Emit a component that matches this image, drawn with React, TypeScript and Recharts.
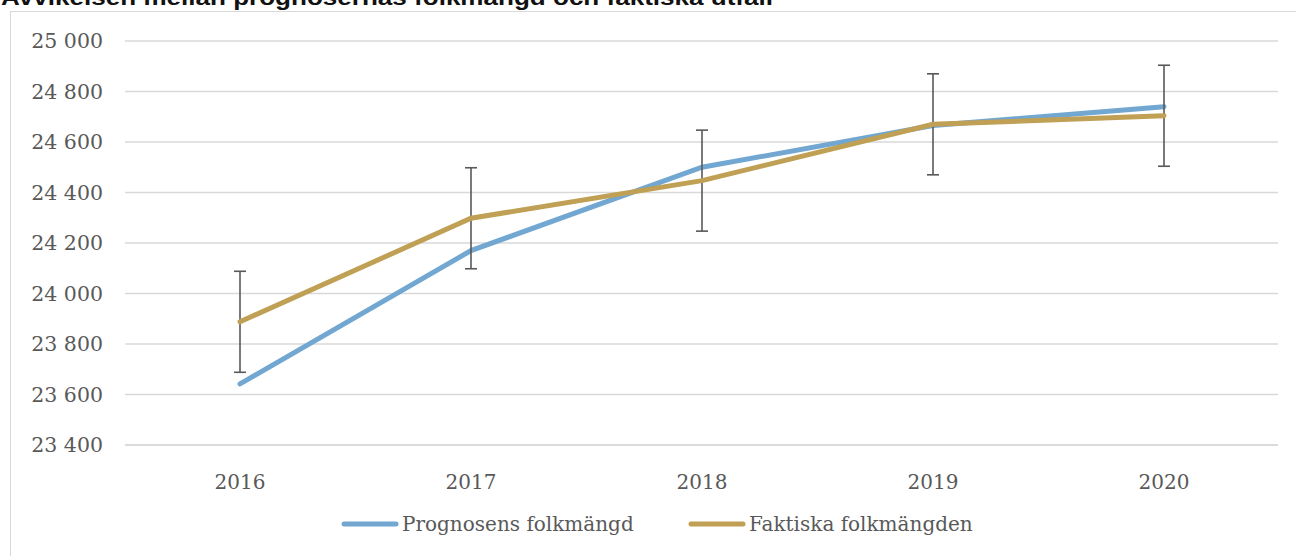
import { LineChart, Line, XAxis, YAxis, CartesianGrid, ErrorBar, Legend } from 'recharts'

const years = ['2016', '2017', '2018', '2019', '2020']
const prognos = [23642, 24170, 24500, 24665, 24740]
const faktiska = [23888, 24298, 24447, 24670, 24704]
const faktiskaErr = [200, 200, 200, 200, 200]
const yTicks = [23400, 23600, 23800, 24000, 24200, 24400, 24600, 24800, 25000]
const seriesNames = ['Prognosens folkmängd', 'Faktiska folkmängden']

const BLUE = '#72a7d2'
const GOLD = '#bfa054'
const TEXT = '#595959'
const GRID = '#d9d9d9'
const FONT = 'DejaVu Serif'

const data = years.map((year, i) => ({
  year,
  prognos: prognos[i],
  faktiska: faktiska[i],
  err: faktiskaErr[i],
}))

function formatThousands(v: number): string {
  const k = Math.floor(v / 1000)
  const rest = String(v % 1000).padStart(3, '0')
  return `${k} ${rest}`
}

function LegendContent({ payload }: { payload?: Array<{ value: string; color?: string }> }) {
  // keep the series order, recharts sorts the payload by name
  const items = [...(payload ?? [])].sort((a, b) => seriesNames.indexOf(a.value) - seriesNames.indexOf(b.value))
  return (
    <svg width={1296} height={40} style={{ display: 'block' }}>
      {items.map((item, i) => {
        const x0 = 342 + i * 347
        return (
          <g key={item.value}>
            <line x1={x0 + 2} y1={20} x2={x0 + 54} y2={20} stroke={item.color} strokeWidth={5} strokeLinecap="round" />
            <text x={x0 + 60} y={27} fontSize={20} fontFamily={FONT} fill={TEXT}>
              {item.value}
            </text>
          </g>
        )
      })}
    </svg>
  )
}

export default function App() {
  return (
    <div style={{ position: 'absolute', left: 0, top: 0, width: 1296, height: 556, background: '#fff', overflow: 'hidden' }}>
      <div
        style={{
          position: 'absolute',
          left: 10,
          top: 11,
          width: 1300,
          height: 560,
          border: `1.5px solid ${GRID}`,
          boxSizing: 'border-box',
        }}
      />
      <svg width={1296} height={20} style={{ position: 'absolute', left: 0, top: 0 }}>
        <text x={1} y={5} fontSize={22} fontWeight="bold" fontFamily="Liberation Sans" fill="#111" textLength={772} lengthAdjust="spacingAndGlyphs">
          Avvikelsen mellan prognosernas folkmängd och faktiska utfall
        </text>
      </svg>
      <div style={{ position: 'absolute', left: 0, top: 0 }}>
        <LineChart width={1296} height={556} data={data} margin={{ top: 41, right: 18, left: 0, bottom: 12 }}>
          <CartesianGrid vertical={false} stroke={GRID} strokeWidth={1.5} />
          <XAxis
            dataKey="year"
            scale="point"
            padding={{ left: 115, right: 114 }}
            height={59}
            axisLine={{ stroke: GRID, strokeWidth: 1.5 }}
            tickLine={false}
            tickSize={0}
            tickMargin={30}
            tick={{ fontSize: 20, fill: TEXT, fontFamily: FONT }}
          />
          <YAxis
            width={125}
            domain={[23400, 25000]}
            ticks={yTicks}
            interval={0}
            axisLine={false}
            tickLine={false}
            tickSize={0}
            tickMargin={22}
            tickFormatter={formatThousands}
            tick={{ fontSize: 20.5, fill: TEXT, fontFamily: FONT }}
          />
          <Legend
            verticalAlign="bottom"
            align="left"
            wrapperStyle={{ height: 40, width: 1296 }}
            content={(props: any) => <LegendContent payload={props.payload} />}
          />
          <Line
            type="linear"
            dataKey="prognos"
            name={seriesNames[0]}
            stroke={BLUE}
            strokeWidth={5}
            strokeLinecap="round"
            dot={false}
            activeDot={false}
            isAnimationActive={false}
          />
          <Line
            type="linear"
            dataKey="faktiska"
            name={seriesNames[1]}
            stroke={GOLD}
            strokeWidth={5}
            strokeLinecap="round"
            dot={false}
            activeDot={false}
            isAnimationActive={false}
          >
            <ErrorBar dataKey="err" direction="y" width={6} stroke="#595959" strokeWidth={1.6} isAnimationActive={false} />
          </Line>
        </LineChart>
      </div>
    </div>
  )
}
